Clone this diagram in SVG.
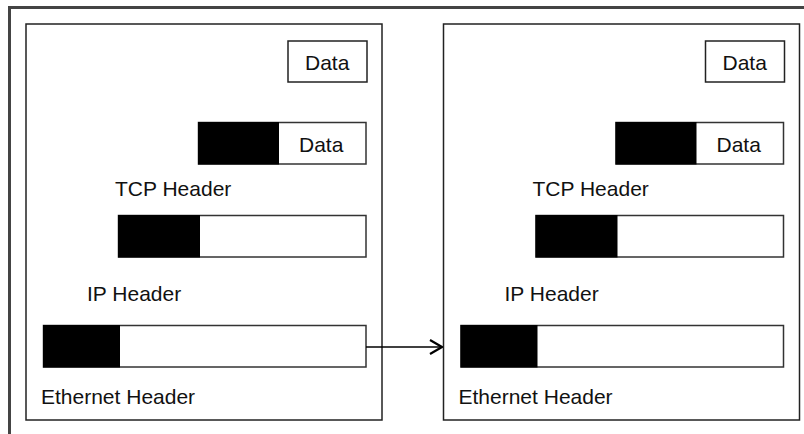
<svg xmlns="http://www.w3.org/2000/svg" width="804" height="434" viewBox="0 0 804 434">
  <defs>
    <style>
      .frame { fill: none; stroke: #444; stroke-width: 3; }
      .box { fill: #fff; stroke: #222; stroke-width: 1.5; }
      .bar { fill: #fff; stroke: #333; stroke-width: 1.5; }
      .hdr { fill: #000; }
      .lbl { font-family: "Liberation Sans", Arial, sans-serif; font-size: 21px; fill: #111; }
      .conn { fill: none; stroke: #000; stroke-width: 1.5; }
    </style>
    <marker id="chev" viewBox="0 0 14 16" refX="13" refY="8" markerWidth="14" markerHeight="16" markerUnits="userSpaceOnUse" orient="auto">
      <path d="M1,1 L13,8 L1,15" fill="none" stroke="#000" stroke-width="2.2"/>
    </marker>
    <g id="host">
      <rect class="box" x="26" y="24" width="356" height="396"/>
      <rect class="box" x="288" y="41" width="79" height="41"/>
      <text class="lbl" x="305" y="70">Data</text>
      <rect class="bar" x="198.5" y="122.5" width="167.5" height="41.5"/>
      <rect class="hdr" x="198" y="122" width="81" height="42.5"/>
      <text class="lbl" x="299" y="152">Data</text>
      <text class="lbl" x="115" y="196">TCP Header</text>
      <rect class="bar" x="118.5" y="215.5" width="247.5" height="41.5"/>
      <rect class="hdr" x="118" y="215" width="82" height="42.5"/>
      <text class="lbl" x="87" y="301">IP Header</text>
      <rect class="bar" x="43.5" y="325.5" width="322.5" height="41.5"/>
      <rect class="hdr" x="43" y="325" width="77" height="42.5"/>
      <text class="lbl" x="41" y="404">Ethernet Header</text>
    </g>
  </defs>
  <rect width="804" height="434" fill="#fff"/>
  <path class="frame" d="M9.5,434 L9.5,7.5 L804,7.5"/>
  <g id="sender">
    <use href="#host"/>
  </g>
  <g id="receiver" transform="translate(417.5,0)">
    <use href="#host"/>
  </g>
  <g id="connectors">
    <path class="conn" d="M366,347 L442,347" marker-end="url(#chev)"/>
  </g>
</svg>
